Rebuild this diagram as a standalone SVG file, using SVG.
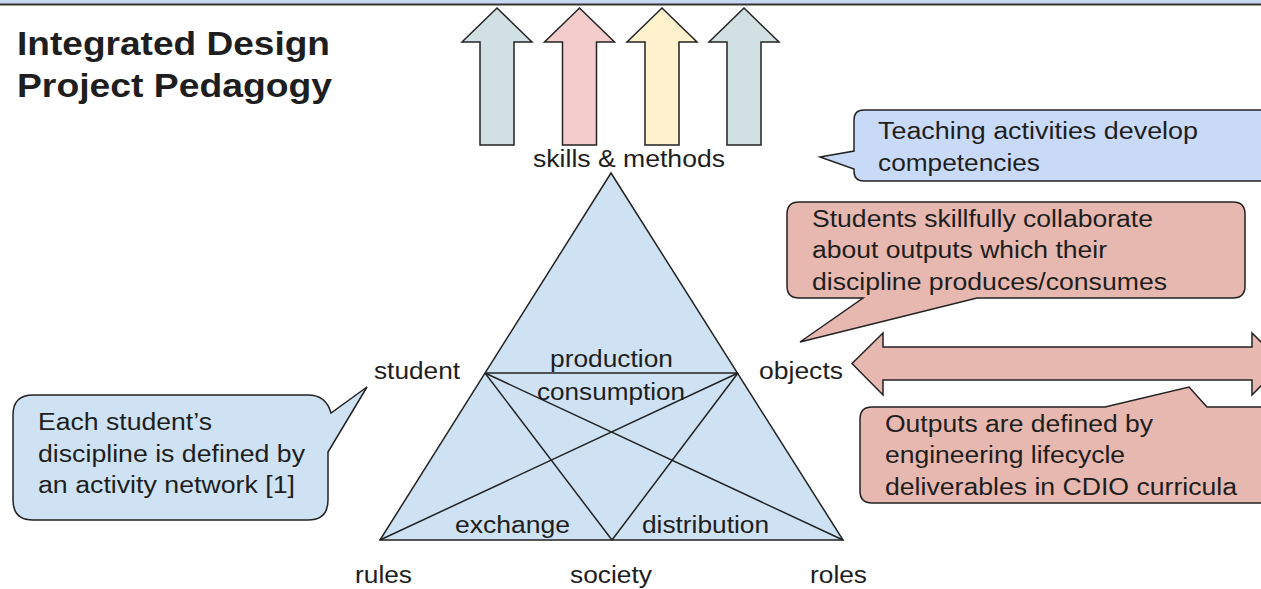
<svg xmlns="http://www.w3.org/2000/svg" width="1261" height="589" viewBox="0 0 1261 589">
  <style>
    text { font-family: "Liberation Sans", Arial, sans-serif; fill: #1e1e1e; }
    .title { font-size: 34px; font-weight: bold; }
    .body { font-size: 23px; }
    .edge { stroke: #222; stroke-width: 1.5; stroke-linejoin: miter; }
    .tri { fill: #cfe2f3; }
    .blue { fill: #c9daf8; }
    .red { fill: #e6b8af; }
    .teal { fill: #d0e0e3; }
    .pink { fill: #f4cccc; }
    .cream { fill: #fff2cc; }
  </style>
  <defs>
    <!-- upward block arrow, centred on x=0 -->
    <path id="upArrow" d="M0,8 L35,42 H17 V145 H-17 V42 H-35 Z"/>
  </defs>

  <rect x="0" y="0" width="1261" height="4" fill="#c6d9f0"/>
  <line x1="0" y1="4.5" x2="1261" y2="4.5" stroke="#333" stroke-width="2"/>

  <g id="title">
    <text class="title" x="17" y="55" textLength="313" lengthAdjust="spacingAndGlyphs">Integrated Design</text>
    <text class="title" x="17" y="97" textLength="315" lengthAdjust="spacingAndGlyphs">Project Pedagogy</text>
  </g>

  <g id="competency-arrows">
    <use href="#upArrow" x="497" class="teal edge"/>
    <use href="#upArrow" x="579.5" class="pink edge"/>
    <use href="#upArrow" x="662" class="cream edge"/>
    <use href="#upArrow" x="744" class="teal edge"/>
  </g>

  <g id="activity-triangle">
    <path class="tri edge" d="M611,173 L843,540 H380 Z"/>
    <g class="edge" fill="none">
      <line x1="485" y1="373" x2="738" y2="373"/>
      <line x1="485" y1="373" x2="612" y2="540"/>
      <line x1="738" y1="373" x2="612" y2="540"/>
      <line x1="485" y1="373" x2="843" y2="540"/>
      <line x1="738" y1="373" x2="380" y2="540"/>
    </g>
    <text class="body" x="550" y="367" textLength="123" lengthAdjust="spacingAndGlyphs">production</text>
    <text class="body" x="537" y="400" textLength="148" lengthAdjust="spacingAndGlyphs">consumption</text>
    <text class="body" x="455" y="533" textLength="115" lengthAdjust="spacingAndGlyphs">exchange</text>
    <text class="body" x="642" y="533" textLength="127" lengthAdjust="spacingAndGlyphs">distribution</text>
  </g>

  <g id="vertex-labels">
    <text class="body" x="533" y="167" textLength="192" lengthAdjust="spacingAndGlyphs">skills &amp; methods</text>
    <text class="body" x="374" y="379" textLength="86" lengthAdjust="spacingAndGlyphs">student</text>
    <text class="body" x="759" y="379" textLength="84" lengthAdjust="spacingAndGlyphs">objects</text>
    <text class="body" x="355" y="583" textLength="57" lengthAdjust="spacingAndGlyphs">rules</text>
    <text class="body" x="570" y="583" textLength="82" lengthAdjust="spacingAndGlyphs">society</text>
    <text class="body" x="810" y="583" textLength="57" lengthAdjust="spacingAndGlyphs">roles</text>
  </g>

  <g id="callout-teaching">
    <path class="blue edge" d="M864,110 H1275 V181 H864 Q854,181 854,171 V169 L820,157 L854,151 V120 Q854,110 864,110 Z"/>
    <text class="body" x="878" y="139" textLength="320" lengthAdjust="spacingAndGlyphs">Teaching activities develop</text>
    <text class="body" x="878" y="171" textLength="162" lengthAdjust="spacingAndGlyphs">competencies</text>
  </g>

  <g id="callout-collaborate">
    <path class="red edge" d="M799,202 H1233 Q1245,202 1245,214 V286 Q1245,298 1233,298 H977 L800,342 L863,298 H799 Q787,298 787,286 V214 Q787,202 799,202 Z"/>
    <text class="body" x="812" y="227" textLength="341" lengthAdjust="spacingAndGlyphs">Students skillfully collaborate</text>
    <text class="body" x="812" y="258" textLength="295" lengthAdjust="spacingAndGlyphs">about outputs which their</text>
    <text class="body" x="812" y="290" textLength="355" lengthAdjust="spacingAndGlyphs">discipline produces/consumes</text>
  </g>

  <g id="connectors">
    <path class="red edge" d="M852,363.5 L883,333 V347 H1252 V333 L1283,363.5 L1252,395 V380 H883 V395 Z"/>
  </g>

  <g id="callout-outputs">
    <path class="red edge" d="M872,407 H1105 L1189,387 L1207,407 H1275 V503 H872 Q860,503 860,491 V419 Q860,407 872,407 Z"/>
    <text class="body" x="885" y="432" textLength="268" lengthAdjust="spacingAndGlyphs">Outputs are defined by</text>
    <text class="body" x="885" y="463" textLength="240" lengthAdjust="spacingAndGlyphs">engineering lifecycle</text>
    <text class="body" x="885" y="495" textLength="352" lengthAdjust="spacingAndGlyphs">deliverables in CDIO curricula</text>
  </g>

  <g id="callout-discipline">
    <path class="tri edge" d="M33,395 H308 Q326,395 331,413 L367,387 L328,452 V500 Q328,520 308,520 H33 Q13,520 13,500 V415 Q13,395 33,395 Z"/>
    <text class="body" x="38" y="430" textLength="174" lengthAdjust="spacingAndGlyphs">Each student’s</text>
    <text class="body" x="38" y="462" textLength="267" lengthAdjust="spacingAndGlyphs">discipline is defined by</text>
    <text class="body" x="38" y="493" textLength="257" lengthAdjust="spacingAndGlyphs">an activity network [1]</text>
  </g>
</svg>
